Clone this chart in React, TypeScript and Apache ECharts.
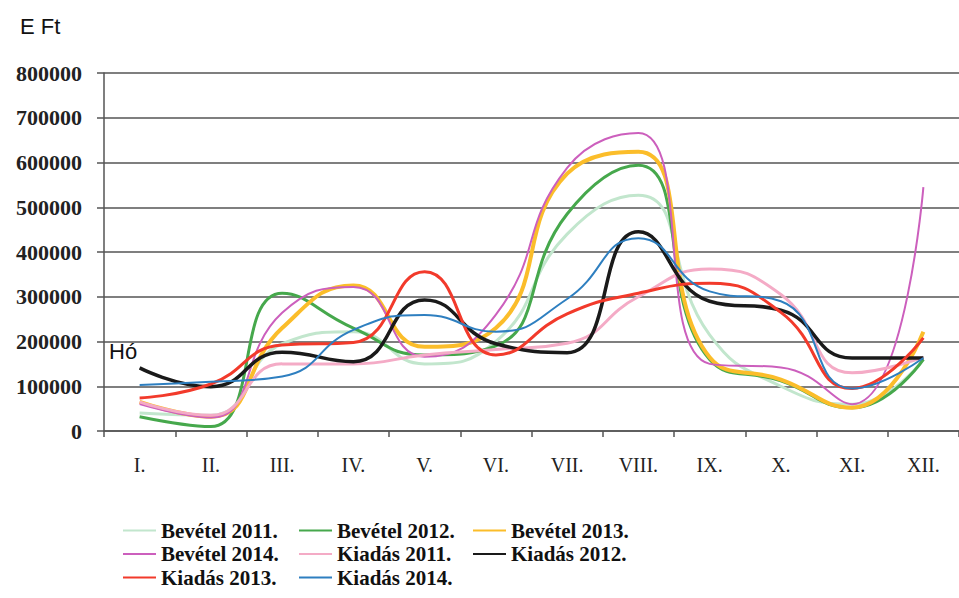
import React, { useEffect, useRef } from "react";
import * as echarts from "echarts";

const months = ["I.", "II.", "III.", "IV.", "V.", "VI.", "VII.", "VIII.", "IX.", "X.", "XI.", "XII."];
const yTicks = [0, 100000, 200000, 300000, 400000, 500000, 600000, 700000, 800000];

const bevetel2011 = [40000, 35000, 195000, 222000, 150000, 200000, 440000, 527000, 215000, 100000, 60000, 160000];
const bevetel2012 = [32000, 10000, 308000, 230000, 170000, 190000, 485000, 594000, 160000, 112000, 52000, 160000];
const bevetel2013 = [65000, 32000, 230000, 325000, 188000, 230000, 575000, 624000, 165000, 115000, 52000, 222000];
const bevetel2014 = [60000, 30000, 264000, 322000, 166000, 260000, 588000, 666000, 150000, 142000, 60000, 545000];
const kiadas2011 = [65000, 35000, 150000, 150000, 170000, 182000, 196000, 300000, 362000, 305000, 130000, 165000];
const kiadas2012 = [141000, 99000, 176000, 155000, 293000, 195000, 175000, 445000, 290000, 270000, 163000, 163000];
const kiadas2013 = [74000, 105000, 192000, 198000, 356000, 170000, 262000, 308000, 330000, 265000, 95000, 208000];
const kiadas2014 = [103000, 110000, 122000, 226000, 259000, 222000, 295000, 431000, 312000, 290000, 95000, 163000];

const seriesDefs = [
  { name: "Bevétel 2011.", data: bevetel2011, color: "#c2e6cd", width: 3 },
  { name: "Bevétel 2012.", data: bevetel2012, color: "#46a84c", width: 3 },
  { name: "Bevétel 2013.", data: bevetel2013, color: "#fbbd2a", width: 4 },
  { name: "Bevétel 2014.", data: bevetel2014, color: "#cc5fbd", width: 2 },
  { name: "Kiadás 2011.", data: kiadas2011, color: "#f4abc6", width: 3 },
  { name: "Kiadás 2012.", data: kiadas2012, color: "#1a1a1a", width: 3.5 },
  { name: "Kiadás 2013.", data: kiadas2013, color: "#f23a2b", width: 3 },
  { name: "Kiadás 2014.", data: kiadas2014, color: "#2e7fc0", width: 2 },
];

const legendCols = [
  ["Bevétel 2011.", "Bevétel 2014.", "Kiadás 2013."],
  ["Bevétel 2012.", "Kiadás 2011.", "Kiadás 2014."],
  ["Bevétel 2013.", "Kiadás 2012."],
];
const legendLefts = [122, 298, 472];

export default function App() {
  const ref = useRef<HTMLDivElement>(null);
  useEffect(() => {
    if (!ref.current) return;
    const chart = echarts.init(ref.current, undefined, { renderer: "svg" });
    const serif = "Liberation Serif";
    chart.setOption({
      animation: false,
      backgroundColor: "#ffffff",
      grid: { left: 104, top: 73, width: 872, height: 358, containLabel: false },
      xAxis: {
        type: "category",
        data: months,
        boundaryGap: true,
        axisLine: { lineStyle: { color: "#555", width: 1.5 } },
        axisTick: { show: true, length: 6, lineStyle: { color: "#555", width: 1.5 } },
        axisLabel: { color: "#222", fontFamily: serif, fontSize: 20, margin: 24 },
        splitLine: { show: false },
      },
      yAxis: {
        type: "value",
        min: 0,
        max: yTicks[yTicks.length - 1],
        interval: yTicks[1] - yTicks[0],
        axisLine: { show: true, lineStyle: { color: "#555", width: 1.5 } },
        axisTick: { show: true, length: 7, lineStyle: { color: "#555", width: 1.5 } },
        axisLabel: {
          color: "#222",
          fontFamily: serif,
          fontSize: 22,
          fontWeight: "bold",
          margin: 22,
          formatter: (v: number) => String(v),
        },
        splitLine: { show: true, lineStyle: { color: "#555", width: 1.5 } },
      },
      legend: legendCols.map((col, i) => ({
        data: col,
        orient: "vertical",
        left: legendLefts[i],
        top: 520,
        itemWidth: 33,
        itemHeight: 12,
        itemGap: 2.5,
        padding: 0,
        itemStyle: { opacity: 0 },
        textStyle: { color: "#111", fontFamily: serif, fontSize: 21, fontWeight: "bold", lineHeight: 21 },
      })),
      graphic: [
        { type: "text", left: 20, top: 15, style: { text: "E Ft", font: "22px 'Liberation Sans'", fill: "#111" } },
        { type: "text", left: 109, top: 340, style: { text: "Hó", font: "22px 'Liberation Sans'", fill: "#111" } },
      ],
      series: seriesDefs.map((s) => ({
        name: s.name,
        type: "line",
        data: s.data,
        smooth: 0.5,
        symbol: "none",
        showSymbol: false,
        color: s.color,
        lineStyle: { color: s.color, width: s.width },
      })),
    });
    return () => chart.dispose();
  }, []);
  return <div ref={ref} style={{ position: "absolute", left: 0, top: 0, width: 959, height: 598 }} />;
}
